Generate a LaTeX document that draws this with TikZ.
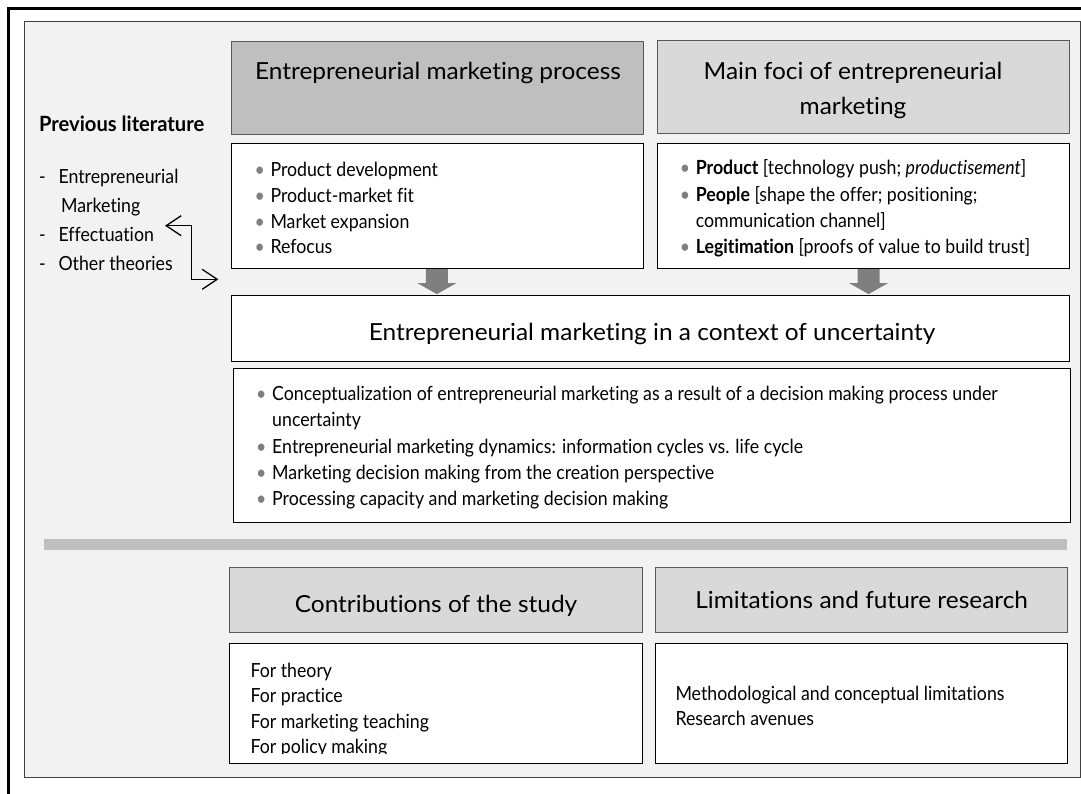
\documentclass[tikz,border=0pt]{standalone}
\usepackage{fontspec}
\setmainfont[FakeStretch=0.91,Ligatures=NoCommon]{Lato}
\newfontfamily\headfont[FakeStretch=1.04,Ligatures=NoCommon]{Lato}
\newfontfamily\prevfont[FakeStretch=0.96,Ligatures=NoCommon]{Lato}
\usetikzlibrary{arrows.meta}
\definecolor{panel}{HTML}{F2F2F2}
\definecolor{hdark}{HTML}{BFBFBF}
\definecolor{hlight}{HTML}{D9D9D9}
\definecolor{hborder}{HTML}{595959}
\definecolor{arrowgray}{HTML}{7F7F7F}
\definecolor{bulletgray}{HTML}{7F7F7F}
\newcommand\bul{\makebox[16pt][l]{\textcolor{bulletgray}{\textbullet}}}
\begin{document}
\begin{tikzpicture}[x=1pt,y=-1pt,
  box/.style={draw=black, fill=white, line width=1.1pt, anchor=north west, inner sep=0pt},
  hbox/.style={draw=hborder, line width=1.1pt, anchor=north west, inner sep=0pt},
  body/.style={anchor=base west, inner sep=0pt, font=\fontsize{19.5}{24}\selectfont},
  head/.style={anchor=base, inner sep=0pt, font=\headfont\fontsize{23.5}{30}\selectfont},
  conn/.style={line width=1.3pt, {Straight Barb[length=15pt,width=20pt]}-{Straight Barb[length=15pt,width=20pt]}},
]
\useasboundingbox (0,0) rectangle (1081,794);
\fill[white] (0,0) rectangle (1081,794);
% outer frame
\draw[line width=2.5pt] (1081,8.5) -- (8.5,8.5) -- (8.5,794);
% panel
\node[draw=black!75, fill=panel, line width=0.9pt, anchor=north west, inner sep=0pt,
  minimum width=1056pt, minimum height=756pt] (panel) at (24,21) {};

% top headers and boxes
\node[hbox, fill=hdark, minimum width=412.6pt, minimum height=93pt] (hproc) at (230.7,41) {};
\node[hbox, fill=hlight, minimum width=412pt, minimum height=93pt] (hfoci) at (657,40) {};
\node[box, minimum width=412.6pt, minimum height=125pt] (bproc) at (230.7,143) {};
\node[box, minimum width=412pt, minimum height=125pt] (bfoci) at (657,143) {};
\node[box, minimum width=838.3pt, minimum height=66pt] (hctx) at (230.7,295) {};
\node[box, minimum width=837pt, minimum height=154pt] (bctx) at (233,368) {};

% separator
\node[fill=hdark, anchor=north west, inner sep=0pt, minimum width=1022.7pt, minimum height=11.7pt] (sep) at (44,538.3) {};

% bottom headers and boxes
\node[hbox, fill=hlight, minimum width=413.3pt, minimum height=65pt] (hcon) at (229,566.5) {};
\node[hbox, fill=hlight, minimum width=412.6pt, minimum height=65pt] (hlim) at (654.7,566.7) {};
\node[box, minimum width=413.3pt, minimum height=120.3pt] (bcon) at (229,643) {};
\node[box, minimum width=412.6pt, minimum height=120.6pt] (blim) at (654.7,642.7) {};

% block arrows
\fill[arrowgray] ([xshift=-11.7pt]bproc.south) -- ++(22,0) -- ++(0,14) -- ++(8.5,0)
  -- ++(-19.5,11) -- ++(-19.5,-11) -- ++(8.5,0) -- cycle;
\fill[arrowgray] ([xshift=-6pt]bfoci.south) -- ++(22,0) -- ++(0,14) -- ++(8.5,0)
  -- ++(-19.5,11) -- ++(-19.5,-11) -- ++(8.5,0) -- cycle;

% previous literature
\node[anchor=base west, inner sep=0pt, font=\prevfont\fontsize{21}{24}\selectfont\bfseries] (prev) at (38.9,132) {Previous literature};
\node[body] (d1) at (39,183.3) {-};
\node[body] (pl1) at (58.3,183.3) {Entrepreneurial};
\node[body] (pl1b) at (61,212.3) {Marketing};
\node[body] (d2) at (39,241.7) {-};
\node[body] (pl2) at (58.3,241.7) {Effectuation};
\node[body] (d3) at (39,270) {-};
\node[body] (pl3) at (58.3,270) {Other theories};
\coordinate (ca) at (165,225.7);
\coordinate (cb) at (218.3,279.3);
\draw[conn] (ca) -- ++(26.7,0) |- (cb);

% header texts
\node[head] (tproc) at (438,80) {Entrepreneurial marketing process};
\node[head] (tfoci1) at (853,80) {Main foci of entrepreneurial};
\node[head] (tfoci2) at (853,115) {marketing};
\node[head] (tctx) at (652,340) {Entrepreneurial marketing in a context of uncertainty};
\node[head] (tcon) at (436,612) {Contributions of the study};
\node[head] (tlim) at (861.7,608) {Limitations and future research};

% process bullets
\node[body] (p1) at (254.3,176.7) {\bul Product development};
\node[body] (p2) at (254.3,202.7) {\bul Product-market fit};
\node[body] (p3) at (254.3,228.3) {\bul Market expansion};
\node[body] (p4) at (254.3,254) {\bul Refocus};

% foci bullets
\node[body] (f1) at (679.6,175) {\bul\textbf{Product} [technology push; \textit{productisement}]};
\node[body] (f2) at (679.6,201.7) {\bul\textbf{People} [shape the offer; positioning;};
\node[body] (f2b) at (695.6,227.7) {communication channel]};
\node[body] (f3) at (679.6,253.3) {\bul\textbf{Legitimation} [proofs of value to build trust]};

% context bullets
\node[body] (c1) at (256,400.5) {\bul Conceptualization of entrepreneurial marketing as a result of a decision making process under};
\node[body] (c1b) at (272,426.7) {uncertainty};
\node[body] (c2) at (256,453) {\bul Entrepreneurial marketing dynamics: information cycles vs. life cycle};
\node[body] (c3) at (256,479) {\bul Marketing decision making from the creation perspective};
\node[body] (c4) at (256,505) {\bul Processing capacity and marketing decision making};

% contributions
\begin{scope}
\clip (229,643) rectangle (642,753.5);
\node[body] (k1) at (250.3,677) {For theory};
\node[body] (k2) at (250.3,702) {For practice};
\node[body] (k3) at (250.3,728) {For marketing teaching};
\node[body] (k4) at (250.3,753.5) {For policy making};
\end{scope}

% limitations
\node[body] (m1) at (675.3,700) {Methodological and conceptual limitations};
\node[body] (m2) at (675.3,725) {Research avenues};
\end{tikzpicture}
\end{document}
